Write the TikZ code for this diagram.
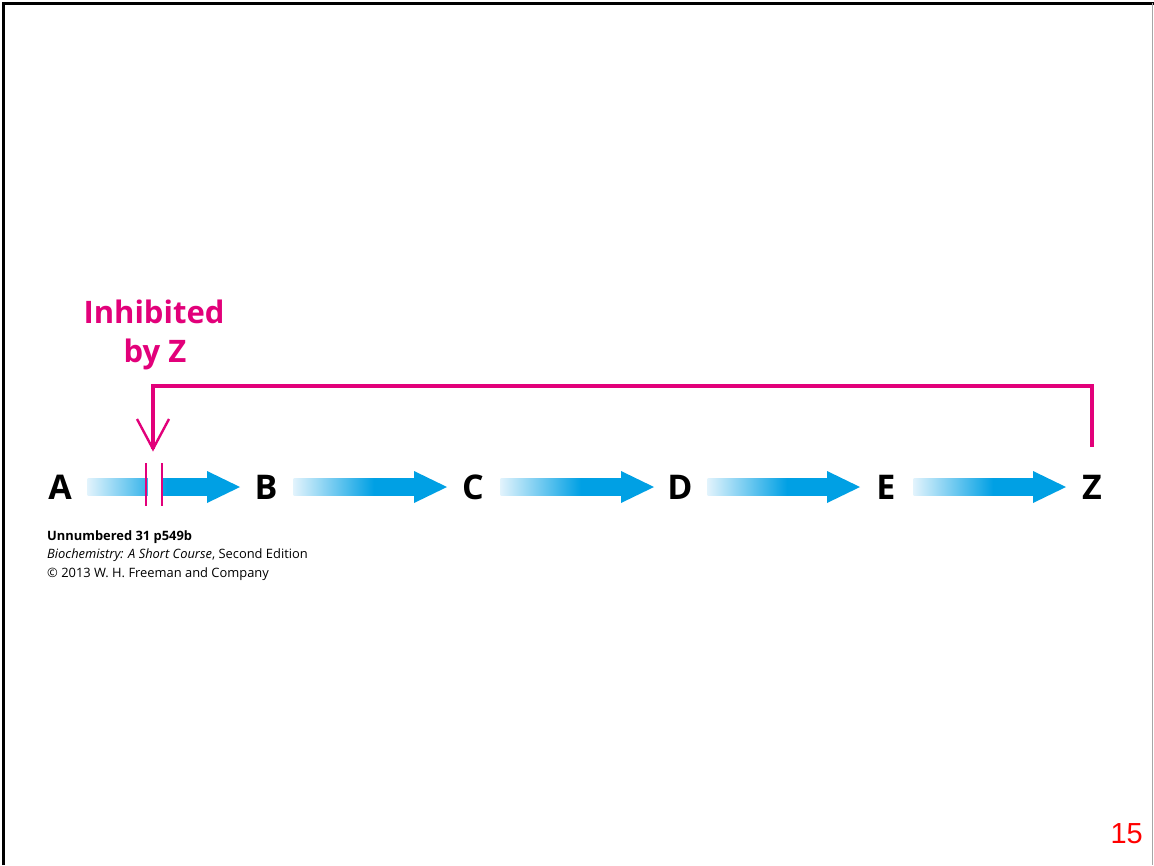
\documentclass[tikz,border=0pt]{standalone}
\usepackage{fontspec}
\setmainfont{Open Sans}
\newfontfamily\arialfont{Liberation Sans}
\usetikzlibrary{calc}
\definecolor{flowblue}{RGB}{0,160,228}
\definecolor{flowlight}{RGB}{225,243,252}
\definecolor{inhib}{RGB}{226,0,122}
\definecolor{pagered}{RGB}{255,0,0}
\pgfdeclarehorizontalshading{flowgrad}{100bp}{color(0bp)=(flowlight); color(25bp)=(flowlight); color(58bp)=(flowblue); color(100bp)=(flowblue)}
\tikzset{
  metab/.style={inner sep=0pt, text height=24pt, text depth=0pt, font=\fontsize{34}{40}\selectfont\bfseries},
  inhibline/.style={draw=inhib, line width=3.2pt},
  inhibtext/.style={font=\fontsize{31}{36}\selectfont\bfseries, text=inhib, inner sep=0pt, anchor=base},
  caption/.style={anchor=base west, inner sep=0pt, font=\fontsize{12.9}{15}\selectfont},
}
\newcommand\flowarrow[2]{%
  \coordinate (s#1) at ($(#1.center)+(27.5,0)$);
  \coordinate (t#1) at ($(#2.center)+(-26,0)$);
  \shade[shading=flowgrad] ($(s#1)+(0,-8.5)$) rectangle ($(t#1)+(-32,8.5)$);
  \fill[flowblue] (t#1) -- ($(t#1)+(-33,-16)$) -- ($(t#1)+(-33,16)$) -- cycle;
}
\begin{document}
\begin{tikzpicture}[x=1pt,y=-1pt]
\useasboundingbox (0,0) rectangle (1154,865);
\fill[white] (0,0) rectangle (1154,865);
\draw[line width=3pt] (3,865) -- (3,3) -- (1154,3);
\draw[gray!70, line width=1pt] (1152.5,3) -- (1152.5,865);

\node[metab] (A) at (60,487) {A};
\node[metab] (B) at (266,487) {B};
\node[metab] (C) at (473,487) {C};
\node[metab] (D) at (680,487) {D};
\node[metab] (E) at (886,487) {E};
\node[metab] (Z) at (1092,487) {Z};

\flowarrow{A}{B}
\flowarrow{B}{C}
\flowarrow{C}{D}
\flowarrow{D}{E}
\flowarrow{E}{Z}

% inhibition bars
\coordinate (site) at ($(A.center)+(94,0)$);
\fill[white] ($(site)+(-6.5,-10)$) rectangle ($(site)+(6.5,10)$);
\draw[inhib, line width=2.4pt] ($(site)+(-8,-24)$) -- ($(site)+(-8,19)$);
\draw[inhib, line width=2.4pt] ($(site)+(8,-24)$) -- ($(site)+(8,19)$);

% feedback line
\coordinate (zfb) at ($(Z.north)+(0,-28)$);
\coordinate (tip) at ($(site)+(-1,-38)$);
\draw[inhibline] (zfb) -- (zfb |- 0,386) -- (tip |- 0,386) -- (tip);
\draw[inhib, line width=2.4pt] ($(tip)+(-16,-30)$) -- (tip) -- ($(tip)+(16,-30)$);

\node[inhibtext] (inh) at (154,323) {Inhibited};
\node[inhibtext] (byz) at (155,362) {by Z};

\node[caption, font=\fontsize{12.9}{15}\selectfont\bfseries] (cap1) at (47,540) {Unnumbered 31 p549b};
\node[caption] (cap2) at (47,558) {\textit{Biochemistry: A Short Course}\/, Second Edition};
\node[caption] (cap3) at (47,577) {© 2013 W. H. Freeman and Company};

\node[anchor=base east, inner sep=0pt, text=pagered, font=\arialfont\fontsize{29}{34}\selectfont] (num) at (1143,843) {15};
\end{tikzpicture}
\end{document}
